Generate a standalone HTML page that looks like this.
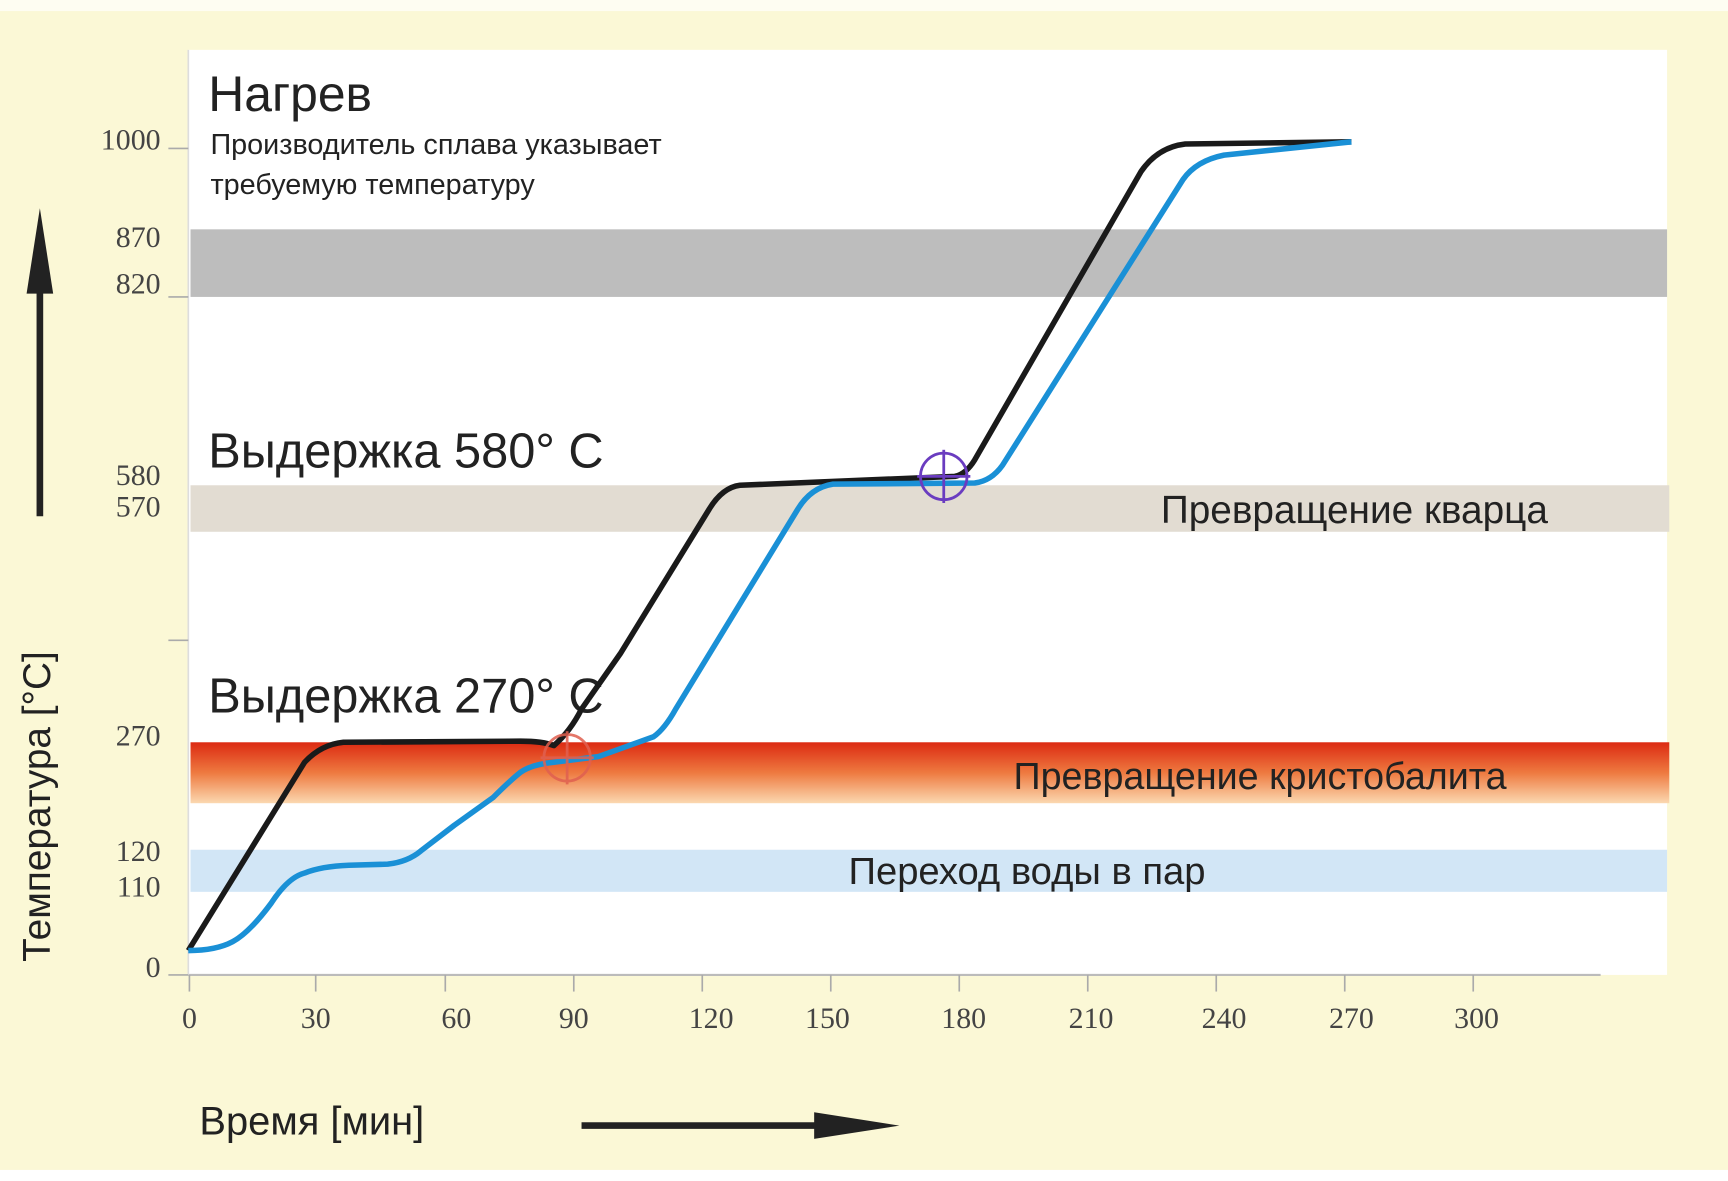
<!DOCTYPE html>
<html><head><meta charset="utf-8"><style>
html,body{margin:0;padding:0;background:#fbf8d6;}
svg{display:block}
text{font-family:"Liberation Sans","DejaVu Sans",sans-serif;fill:#222}
.t{font-family:"Liberation Serif",serif;font-size:27px;fill:#444}
</style></head><body>
<svg width="1728" height="1181" viewBox="0 0 1560 1066" preserveAspectRatio="none" xmlns="http://www.w3.org/2000/svg">
<defs>
<linearGradient id="rg" x1="0" y1="0" x2="0" y2="1">
<stop offset="0" stop-color="#dc2a12"/><stop offset="0.5" stop-color="#ee7a40"/><stop offset="1" stop-color="#fbd8b0"/>
</linearGradient>
</defs>
<rect x="0" y="0" width="1560" height="1066" fill="#fbf8d6"/>
<rect x="0" y="0" width="1560" height="10" fill="#fefdf2"/>
<rect x="0" y="1056" width="1560" height="10" fill="#ffffff"/>
<rect x="170" y="45" width="1335" height="835" fill="#ffffff"/>
<rect x="172" y="207" width="1333" height="61" fill="#bdbdbd"/>
<rect x="172" y="438" width="1335" height="42" fill="#e2dcd2"/>
<rect x="172" y="670" width="1335" height="55" fill="url(#rg)"/>
<rect x="172" y="767" width="1333" height="38" fill="#d2e6f6"/>
<line x1="170" y1="880" x2="1445" y2="880" stroke="#bbb" stroke-width="2"/>
<line x1="170" y1="45" x2="170" y2="880" stroke="#ddd" stroke-width="1.5"/>
<g stroke="#aaa" stroke-width="1.5">
<line x1="152" y1="134" x2="170" y2="134"/><line x1="152" y1="268" x2="170" y2="268"/>
<line x1="152" y1="578" x2="170" y2="578"/><line x1="152" y1="880" x2="170" y2="880"/>
<line x1="171" y1="880" x2="171" y2="895"/><line x1="285" y1="880" x2="285" y2="895"/>
<line x1="402" y1="880" x2="402" y2="895"/><line x1="518" y1="880" x2="518" y2="895"/>
<line x1="634" y1="880" x2="634" y2="895"/><line x1="750" y1="880" x2="750" y2="895"/>
<line x1="866" y1="880" x2="866" y2="895"/><line x1="982" y1="880" x2="982" y2="895"/>
<line x1="1098" y1="880" x2="1098" y2="895"/><line x1="1214" y1="880" x2="1214" y2="895"/>
<line x1="1330" y1="880" x2="1330" y2="895"/>
</g>
<g text-anchor="end">
<text class="t" x="145" y="135">1000</text><text class="t" x="145" y="223">870</text>
<text class="t" x="145" y="265">820</text><text class="t" x="145" y="438">580</text>
<text class="t" x="145" y="466">570</text><text class="t" x="145" y="673">270</text>
<text class="t" x="145" y="777">120</text><text class="t" x="145" y="809">110</text>
<text class="t" x="145" y="882">0</text>
</g>
<g text-anchor="middle">
<text class="t" x="171" y="928">0</text><text class="t" x="285" y="928">30</text>
<text class="t" x="412" y="928">60</text><text class="t" x="518" y="928">90</text>
<text class="t" x="642" y="928">120</text><text class="t" x="747" y="928">150</text>
<text class="t" x="870" y="928">180</text><text class="t" x="985" y="928">210</text>
<text class="t" x="1105" y="928">240</text><text class="t" x="1220" y="928">270</text>
<text class="t" x="1333" y="928">300</text>
</g>
<text x="188" y="100" font-size="45" fill="#333">Нагрев</text>
<text x="190" y="139" font-size="26" fill="#444">Производитель сплава указывает</text>
<text x="190" y="175" font-size="26" fill="#444">требуемую температуру</text>
<text x="188" y="422" font-size="44" fill="#333">Выдержка 580° C</text>
<text x="188" y="643" font-size="44" fill="#333">Выдержка 270° C</text>
<text x="1048" y="472" font-size="35" fill="#333">Превращение кварца</text>
<text x="915" y="712" font-size="34" fill="#333">Превращение кристобалита</text>
<text x="766" y="798" font-size="34.5" fill="#333">Переход воды в пар</text>
<text transform="translate(45,728) rotate(-90)" text-anchor="middle" font-size="35" fill="#333">Температура [°C]</text>
<text x="180" y="1024" font-size="36" fill="#333">Время [мин]</text>
<line x1="36" y1="466" x2="36" y2="250" stroke="#222" stroke-width="6"/>
<polygon points="36,188 24,265 48,265" fill="#222"/>
<line x1="525" y1="1016" x2="750" y2="1016" stroke="#222" stroke-width="6"/>
<polygon points="812,1016 735,1004 735,1028" fill="#222"/>
<path d="M170,858 L275,688 Q290,672 310,670 L470,669 Q490,669 500,673 Q515,660 525,640 L560,590 L640,460 Q652,440 668,438 L862,430 Q872,428 880,415 L1030,155 Q1045,133 1070,130 L1220,128" fill="none" stroke="#1a1a1a" stroke-width="5" stroke-linejoin="round"/>
<path d="M170,858 Q195,858 210,850 Q225,842 245,815 Q260,792 275,788 Q290,782 315,781 L350,780 Q368,778 380,768 L410,745 L445,720 Q460,705 470,697 Q480,690 500,688 L540,683 L590,665 Q600,658 610,640 L720,460 Q732,440 752,437 L880,436 Q895,434 905,420 L1068,162 Q1080,145 1105,140 L1220,128" fill="none" stroke="#1a90d6" stroke-width="5" stroke-linejoin="round"/>
<g fill="none" stroke="#e06050" stroke-width="2.5" opacity="0.85">
<circle cx="512" cy="684" r="21"/><line x1="512" y1="660" x2="512" y2="708"/><line x1="488" y1="684" x2="536" y2="684"/>
</g>
<g fill="none" stroke="#6a3cc0" stroke-width="2.5">
<circle cx="852" cy="430" r="21"/><line x1="852" y1="406" x2="852" y2="454"/><line x1="828" y1="430" x2="876" y2="430"/>
</g>
</svg>
</body></html>
